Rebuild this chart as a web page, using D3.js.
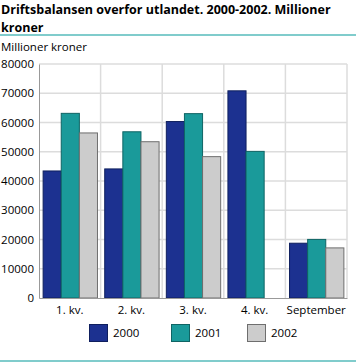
<!DOCTYPE html>
<html><head><meta charset="utf-8">
<script src="https://cdn.jsdelivr.net/npm/d3@7/dist/d3.min.js"></script>
<style>body{margin:0;background:#fff}svg{display:block;font-family:"Open Sans",sans-serif}</style>
</head><body>
<script>
const categories = ["1. kv.", "2. kv.", "3. kv.", "4. kv.", "September"];
const seriesNames = ["2000", "2001", "2002"];
const values2000 = [43600, 44300, 60500, 71000, 18900];
const values2001 = [63300, 57000, 63200, 50300, 20200];
const values2002 = [56600, 53600, 48500, null, 17300];
const yTicks = [0, 10000, 20000, 30000, 40000, 50000, 60000, 70000, 80000];
const colors = ["#1c3190", "#1a9a9a", "#cccccc"];
const strokes = ["#0f1f5e", "#0f6464", "#6e6e6e"];

const W = 356, H = 362;
const svg = d3.select("body").append("svg").attr("width", W).attr("height", H);
const series = [values2000, values2001, values2002];

const t1 = svg.append("text").attr("x", 1).attr("y", 14).attr("font-size", 12.5).attr("font-weight", "bold").attr("fill", "#000")
  .text("Driftsbalansen overfor utlandet. 2000-2002. Millioner");
const tw = t1.node().getComputedTextLength();
if (tw > 338) t1.attr("textLength", 338).attr("lengthAdjust", "spacingAndGlyphs");
svg.append("text").attr("x", 1).attr("y", 31.5).attr("font-size", 12.5).attr("font-weight", "bold").attr("fill", "#000")
  .text("kroner");
svg.append("rect").attr("x", 0).attr("y", 34).attr("width", W).attr("height", 2).attr("fill", "#80cccc");
svg.append("rect").attr("x", 0).attr("y", 360).attr("width", W).attr("height", 2).attr("fill", "#80cccc");
svg.append("text").attr("x", 1).attr("y", 51).attr("font-size", 11.5).attr("fill", "#000").text("Millioner kroner");

const x0 = d3.scaleBand().domain(categories).range([39, 347]).paddingInner(0).paddingOuter(0);
const x1 = d3.scaleBand().domain(seriesNames).range([0, x0.bandwidth()]).paddingOuter(0.2).paddingInner(0);
const y = d3.scaleLinear().domain([0, 80000]).range([298, 64]);

// grid
svg.append("g").selectAll("line").data(yTicks.slice(1)).join("line")
  .attr("x1", 39).attr("x2", 347).attr("y1", d => y(d)).attr("y2", d => y(d))
  .attr("stroke", "#dcdcdc").attr("stroke-width", 1.5);
svg.append("g").selectAll("line").data(categories.slice(1)).join("line")
  .attr("x1", d => x0(d)).attr("x2", d => x0(d)).attr("y1", 64).attr("y2", 298)
  .attr("stroke", "#dcdcdc").attr("stroke-width", 1.5);
svg.append("line").attr("x1", 347).attr("x2", 347).attr("y1", 64).attr("y2", 298).attr("stroke", "#dcdcdc").attr("stroke-width", 1.5);

// bars
series.forEach((vals, si) => {
  svg.append("g").selectAll("rect").data(categories.map((c, i) => ({c, v: vals[i]})).filter(d => d.v != null)).join("rect")
    .attr("x", d => x0(d.c) + x1(seriesNames[si]) + 0.5)
    .attr("width", x1.bandwidth())
    .attr("y", d => y(d.v) + 0.5)
    .attr("height", d => y(0) - y(d.v) - 0.5)
    .attr("fill", colors[si]).attr("stroke", strokes[si]).attr("stroke-width", 1);
});

// axes
const yAxis = svg.append("g").attr("transform", "translate(39,0)")
  .call(d3.axisLeft(y).tickValues(yTicks).tickSize(0).tickPadding(5).tickFormat(d3.format("d")));
yAxis.select(".domain").attr("stroke", "#999");
yAxis.selectAll("text").attr("font-size", 11.5).attr("fill", "#000").attr("font-family", "Open Sans");
const xAxis = svg.append("g").attr("transform", "translate(0,298)")
  .call(d3.axisBottom(x0).tickSize(0).tickPadding(8));
xAxis.select(".domain").attr("stroke", "#999");
xAxis.selectAll("text").attr("font-size", 11.5).attr("fill", "#000").attr("font-family", "Open Sans");

// legend
const legX = [89, 171, 247];
seriesNames.forEach((s, i) => {
  svg.append("rect").attr("x", legX[i] + 0.5).attr("y", 324.5).attr("width", 18).attr("height", 17)
    .attr("fill", colors[i]).attr("stroke", strokes[i]);
  svg.append("text").attr("x", legX[i] + 24).attr("y", 337).attr("font-size", 11.5).attr("fill", "#000").text(s);
});
</script>
</body></html>
